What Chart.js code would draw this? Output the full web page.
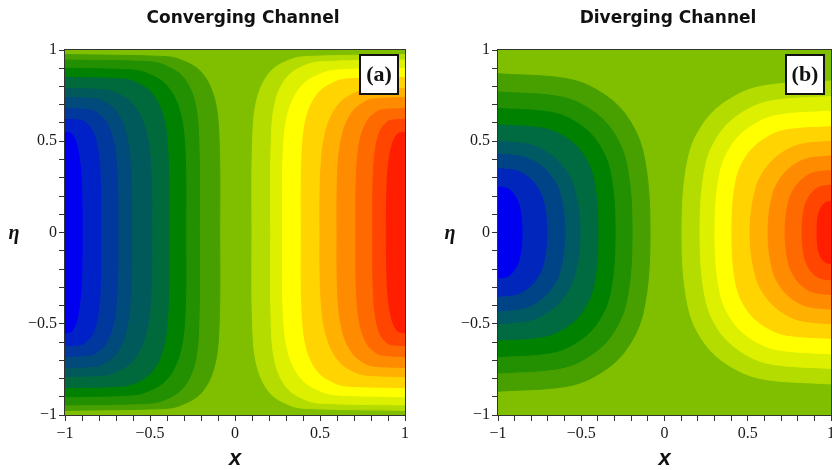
<!DOCTYPE html>
<html>
<head>
<meta charset="utf-8">
<script src="https://cdn.jsdelivr.net/npm/chart.js@4.4.0/dist/chart.umd.min.js"></script>
<style>
  html, body { margin: 0; padding: 0; background: #fff; }
  #wrap { display: flex; width: 832px; height: 470px; overflow: hidden; }
  canvas { display: block; }
</style>
</head>
<body>
<div id="wrap">
  <canvas id="conv" width="416" height="470"></canvas>
  <canvas id="dive" width="416" height="470"></canvas>
</div>
<script>
const tickValues = [-1, -0.5, 0, 0.5, 1];
const tickLabels = ['\u22121', '\u22120.5', '0', '0.5', '1'];

// (a) converging channel: upper half (eta >= 0) of each contour, outermost first
const convEta = [
  [0, 0.49, 0.73, 0.88, 0.95, 0.965, 0.975],
  [0, 0.47, 0.71, 0.85, 0.917, 0.936, 0.945],
  [0, 0.45, 0.675, 0.81, 0.873, 0.891, 0.90],
  [0, 0.425, 0.638, 0.765, 0.825, 0.842, 0.85],
  [0, 0.395, 0.593, 0.711, 0.766, 0.782, 0.79],
  [0, 0.37, 0.555, 0.666, 0.718, 0.733, 0.74],
  [0, 0.34, 0.51, 0.612, 0.66, 0.673, 0.68],
  [0, 0.31, 0.465, 0.558, 0.601, 0.614, 0.62],
  [0, 0.275, 0.413, 0.495, 0.534, 0.545, 0.55]
];
const convLeftX = [
  [-0.09, -0.093, -0.12, -0.20, -0.33, -0.43, -1],
  [-0.21, -0.212, -0.235, -0.304, -0.414, -0.508, -1],
  [-0.29, -0.294, -0.328, -0.406, -0.52, -0.612, -1],
  [-0.39, -0.394, -0.422, -0.49, -0.588, -0.666, -1],
  [-0.49, -0.498, -0.536, -0.609, -0.703, -0.773, -1],
  [-0.61, -0.616, -0.645, -0.701, -0.773, -0.826, -1],
  [-0.69, -0.695, -0.718, -0.763, -0.82, -0.862, -1],
  [-0.79, -0.793, -0.809, -0.839, -0.878, -0.906, -1],
  [-0.90, -0.904, -0.917, -0.935, -0.956, -0.969, -1]
];
const convRightX = [
  [0.10, 0.103, 0.129, 0.207, 0.332, 0.439, 1],
  [0.21, 0.212, 0.235, 0.304, 0.414, 0.508, 1],
  [0.28, 0.284, 0.318, 0.398, 0.513, 0.606, 1],
  [0.39, 0.394, 0.422, 0.49, 0.588, 0.666, 1],
  [0.50, 0.508, 0.546, 0.617, 0.709, 0.777, 1],
  [0.60, 0.606, 0.636, 0.694, 0.767, 0.822, 1],
  [0.71, 0.715, 0.736, 0.778, 0.831, 0.871, 1],
  [0.81, 0.813, 0.827, 0.854, 0.889, 0.915, 1],
  [0.89, 0.895, 0.908, 0.929, 0.951, 0.966, 1]
];

// (b) diverging channel
const divLeftEta = [
  [0, 0.435, 0.653, 0.783, 0.844, 0.87],
  [0, 0.385, 0.578, 0.693, 0.747, 0.77],
  [0, 0.34, 0.51, 0.612, 0.66, 0.68],
  [0, 0.295, 0.443, 0.531, 0.572, 0.59],
  [0, 0.25, 0.375, 0.45, 0.485, 0.50],
  [0, 0.215, 0.323, 0.387, 0.417, 0.43],
  [0, 0.175, 0.263, 0.315, 0.34, 0.35],
  [0, 0.125, 0.188, 0.225, 0.243, 0.25]
];
const divLeftX = [
  [-0.087, -0.127, -0.239, -0.409, -0.595, -1],
  [-0.195, -0.23, -0.329, -0.479, -0.643, -1],
  [-0.297, -0.328, -0.414, -0.545, -0.688, -1],
  [-0.40, -0.426, -0.50, -0.612, -0.734, -1],
  [-0.508, -0.545, -0.623, -0.726, -0.827, -1],
  [-0.598, -0.628, -0.692, -0.776, -0.859, -1],
  [-0.706, -0.728, -0.775, -0.836, -0.897, -1],
  [-0.856, -0.867, -0.89, -0.92, -0.949, -1]
];
const divRightEta = [
  [0, 0.415, 0.623, 0.747, 0.805, 0.83],
  [0, 0.373, 0.559, 0.671, 0.723, 0.745],
  [0, 0.333, 0.499, 0.599, 0.645, 0.665],
  [0, 0.29, 0.435, 0.522, 0.563, 0.58],
  [0, 0.25, 0.375, 0.45, 0.485, 0.50],
  [0, 0.21, 0.315, 0.378, 0.407, 0.42],
  [0, 0.17, 0.255, 0.306, 0.33, 0.34],
  [0, 0.13, 0.195, 0.234, 0.252, 0.26],
  [0, 0.085, 0.128, 0.153, 0.165, 0.17]
];
const divRightX = [
  [0.105, 0.144, 0.254, 0.421, 0.603, 1],
  [0.213, 0.248, 0.344, 0.491, 0.651, 1],
  [0.303, 0.334, 0.419, 0.549, 0.691, 1],
  [0.405, 0.431, 0.504, 0.615, 0.736, 1],
  [0.514, 0.551, 0.628, 0.729, 0.829, 1],
  [0.622, 0.65, 0.71, 0.79, 0.867, 1],
  [0.724, 0.745, 0.789, 0.846, 0.903, 1],
  [0.826, 0.839, 0.867, 0.903, 0.939, 1],
  [0.916, 0.922, 0.936, 0.953, 0.97, 1]
];

const bgGreen = '#7fbf00';
const coldBands = ['#48a000', '#229000', '#008200', '#006a3c', '#005a5c', '#004a7c', '#00389e', '#0020c8', '#0000f0'];
const divColdBands = ['#48a000', '#229000', '#008200', '#006a40', '#005a64', '#004488', '#0026bc', '#0000f0'];
const warmBands = ['#b4dc00', '#dcf000', '#ffff00', '#ffd400', '#ffb000', '#ff8c00', '#ff6a00', '#ff4500', '#ff1e00'];

// one filled region per contour, closed along the side wall
function contourSets(etas, xs, colors) {
  return etas.map((eta, k) => {
    const upper = eta.map((e, i) => ({ x: xs[k][i], y: e }));
    const lower = upper.slice(1).reverse().map(p => ({ x: p.x, y: -p.y }));
    return {
      data: lower.concat(upper),
      showLine: true,
      fill: 'shape',
      backgroundColor: colors[k],
      borderColor: colors[k],
      borderWidth: 1,
      pointRadius: 0,
      tension: 0.35,
      order: -k
    };
  });
}

function tickLabel(v) {
  const i = tickValues.findIndex(t => Math.abs(t - v) < 1e-6);
  return i >= 0 ? tickLabels[i] : '';
}

const decor = {
  id: 'decor',
  beforeDatasetsDraw(chart) {
    const { ctx, chartArea: a } = chart;
    ctx.save();
    ctx.fillStyle = bgGreen;
    ctx.fillRect(a.left, a.top, a.right - a.left, a.bottom - a.top);
    ctx.restore();
  },
  afterDatasetsDraw(chart, args, opts) {
    const { ctx, chartArea: a } = chart;
    ctx.save();
    ctx.strokeStyle = '#333';
    ctx.lineWidth = 1;
    ctx.strokeRect(a.left - 0.5, a.top - 0.5, a.right - a.left + 1, a.bottom - a.top + 1);

    // panel tag box
    const bw = 38, bh = 39;
    const bx = a.right - 7 - bw, by = a.top + 5;
    ctx.fillStyle = '#fff';
    ctx.fillRect(bx, by, bw, bh);
    ctx.lineWidth = 2;
    ctx.strokeStyle = '#111';
    ctx.strokeRect(bx, by, bw, bh);
    ctx.fillStyle = '#111';
    ctx.font = 'bold 22px "Liberation Serif"';
    ctx.textAlign = 'center';
    ctx.textBaseline = 'middle';
    ctx.fillText(opts.tag, bx + bw / 2, by + bh / 2 + 1);

    // title
    ctx.font = 'bold 17px "DejaVu Sans"';
    ctx.fillStyle = '#111';
    ctx.fillText(opts.title, opts.titleX, 19);

    // axis labels
    const xs = chart.scales.x;
    ctx.font = 'bold italic 22px "Liberation Sans"';
    ctx.fillText('x', xs.getPixelForValue(0), 459);
    ctx.font = 'bold italic 20px "Liberation Serif"';
    ctx.fillText('\u03b7', opts.etaX, chart.scales.y.getPixelForValue(0) + 1);
    ctx.restore();
  }
};

function axisOptions(yWidth) {
  const tickFont = { family: 'Liberation Serif', size: 16 };
  return {
    x: {
      type: 'linear', min: -1, max: 1,
      ticks: { stepSize: 0.1, autoSkip: false, maxRotation: 0, callback: tickLabel, font: tickFont, color: '#1a1a1a', padding: 3 },
      grid: { drawOnChartArea: false, tickLength: 6, color: '#333' },
      border: { display: false },
      afterFit(s) { s.height = 55; s.paddingLeft = 0; s.paddingRight = 0; }
    },
    y: {
      type: 'linear', min: -1, max: 1,
      ticks: { stepSize: 0.1, autoSkip: false, callback: tickLabel, font: tickFont, color: '#1a1a1a', padding: 2 },
      grid: { drawOnChartArea: false, tickLength: 6, color: '#333' },
      border: { display: false },
      afterFit(s) { s.width = yWidth; s.paddingTop = 0; s.paddingBottom = 0; }
    }
  };
}

function makePanel(id, datasets, yWidth, rightPad, decorOpts) {
  return new Chart(document.getElementById(id), {
    type: 'scatter',
    data: { datasets },
    options: {
      responsive: false,
      animation: false,
      events: [],
      layout: { padding: { top: 50, left: 0, right: rightPad, bottom: 0 } },
      scales: axisOptions(yWidth),
      plugins: { legend: { display: false }, tooltip: { enabled: false }, decor: decorOpts }
    },
    plugins: [decor]
  });
}

makePanel('conv',
  contourSets(convEta, convLeftX, coldBands).concat(contourSets(convEta, convRightX, warmBands)),
  65, 11, { title: 'Converging Channel', tag: '(a)', titleX: 243, etaX: 14 });

makePanel('dive',
  contourSets(divLeftEta, divLeftX, divColdBands).concat(contourSets(divRightEta, divRightX, warmBands)),
  82, 1, { title: 'Diverging Channel', tag: '(b)', titleX: 252, etaX: 34 });
</script>
</body>
</html>
